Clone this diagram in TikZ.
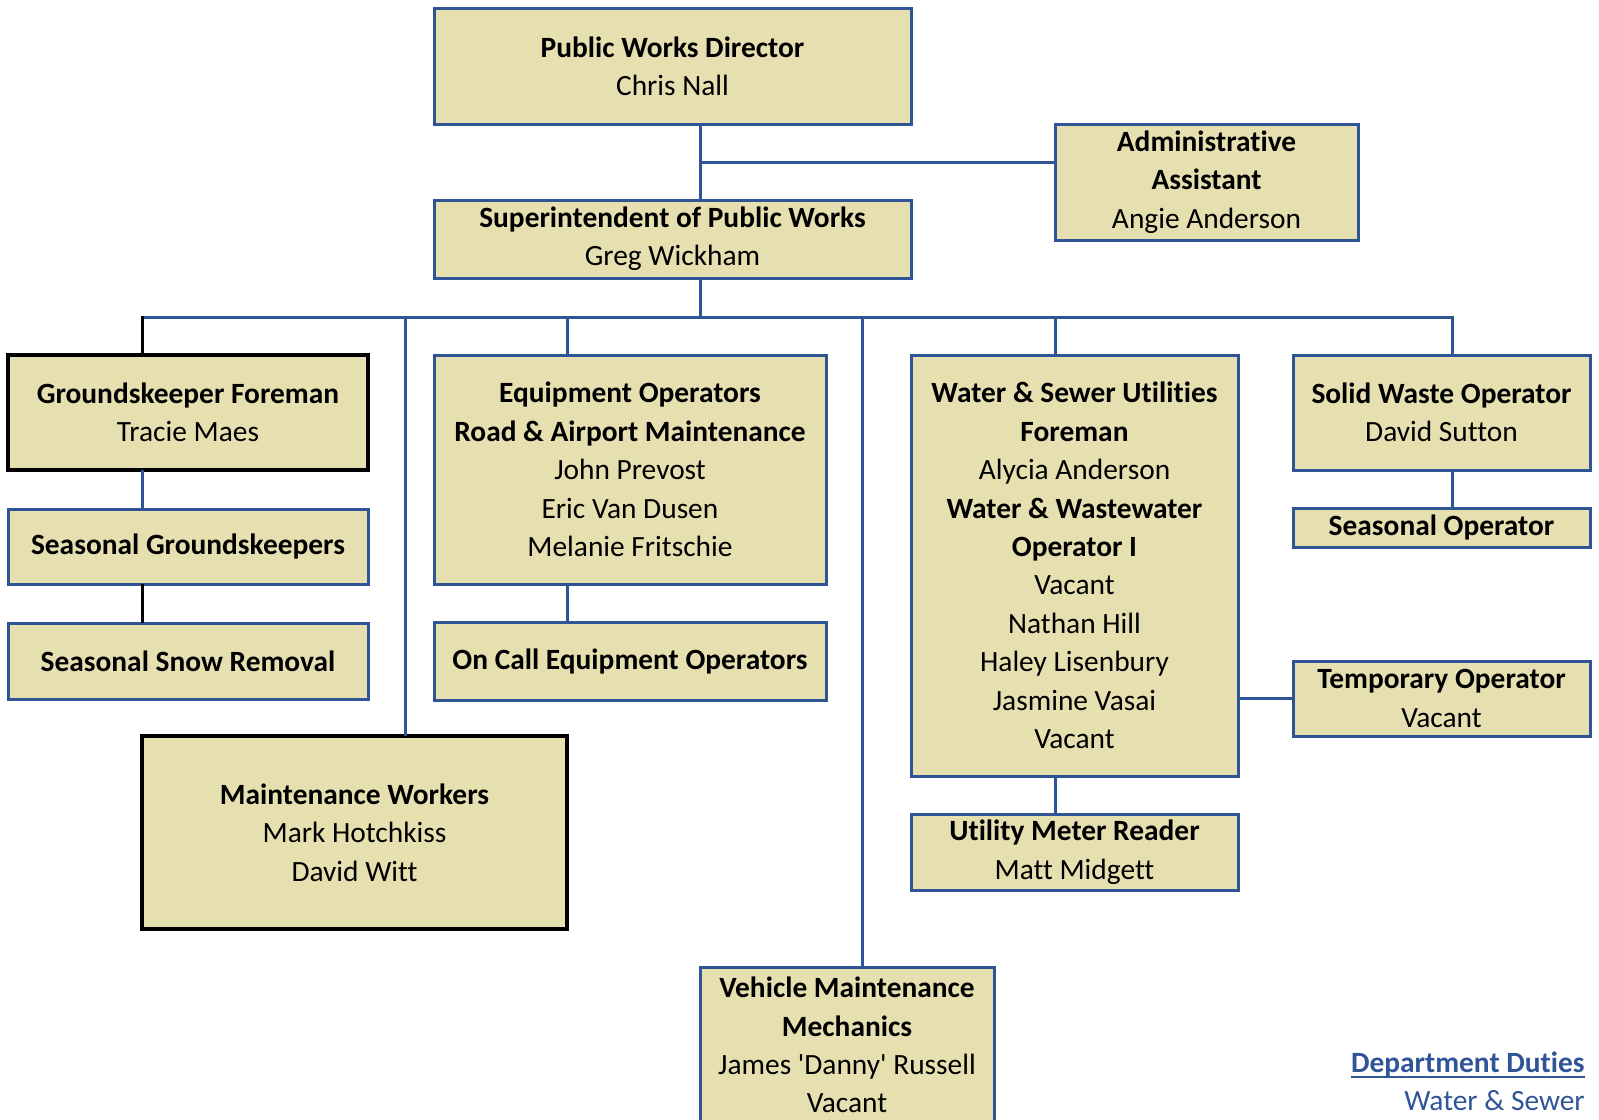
\documentclass[tikz,border=0pt]{standalone}
\usepackage{fontspec}
\setmainfont{Carlito}[Ligatures={TeXOff,CommonOff}]
\definecolor{boxfill}{HTML}{E6E0B0}
\definecolor{orgblue}{HTML}{2F5597}
% underline with a heavier rule than \underline gives
\newcommand\heavyul[1]{\setbox0\hbox{#1}\rlap{\rule[-2.8pt]{\wd0}{1pt}}\box0}
\begin{document}
\begin{tikzpicture}[x=0.5pt,y=-0.5pt,
  box/.style={draw=orgblue, line width=1.5pt, fill=boxfill, align=center,
    inner sep=0pt, font=\fontsize{14.7}{19.2}\selectfont},
  darkbox/.style={box, draw=black, line width=1.7pt},
  size/.style 2 args={minimum width=#1*0.5pt, minimum height=#2*0.5pt},
  conn/.style={draw=orgblue, line width=1.5pt, line cap=rect},
  darkconn/.style={conn, draw=black},
  note/.style={text=orgblue, inner sep=0pt, font=\fontsize{14.7}{19.2}\selectfont}]
\useasboundingbox (0,0) rectangle (1599,1119);

% top of the chart
\node[box, size={477}{116}] (dir) at (672.5,66) {\textbf{Public Works Director}\\Chris Nall};
\node[box, size={477}{78}] (sup) at (672.5,239) {\textbf{Superintendent of Public Works}\\Greg Wickham};
\node[box, size={303}{116}] (adm) at (1206.5,182) {\textbf{Administrative}\\\textbf{Assistant}\\Angie Anderson};

% grounds column
\node[darkbox, size={360}{115}] (gf) at (188,412.5) {\textbf{Groundskeeper Foreman}\\Tracie Maes};
\node[box, size={360}{75}] (sg) at (188,546.5) {\textbf{Seasonal Groundskeepers}};
\node[box, size={360}{76}] (ssr) at (188,661) {\textbf{Seasonal Snow Removal}};
\node[darkbox, size={425}{193}] (mw) at (354.5,832.5) {\textbf{Maintenance Workers}\\Mark Hotchkiss\\David Witt};

% equipment column
\node[box, size={392}{229}] (eo) at (630,469.5) {\textbf{Equipment Operators}\\\textbf{Road \& Airport Maintenance}\\John Prevost\\Eric Van Dusen\\Melanie Fritschie};
\node[box, size={392}{78}] (oc) at (630,661) {\textbf{On Call Equipment Operators}};

% vehicle shop
\node[box, size={294}{156}] (vm) at (847,1045) {\textbf{Vehicle Maintenance}\\\textbf{Mechanics}\\James 'Danny' Russell\\Vacant};

% utilities column
\node[box, size={327}{421}] (ws) at (1074.5,565.5) {\textbf{Water \& Sewer Utilities}\\\textbf{Foreman}\\Alycia Anderson\\\textbf{Water \& Wastewater}\\\textbf{Operator I}\\Vacant\\Nathan Hill\\Haley Lisenbury\\Jasmine Vasai\\Vacant};
\node[box, size={327}{76}] (umr) at (1074.5,852) {\textbf{Utility Meter Reader}\\Matt Midgett};

% solid waste column
\node[box, size={297}{115}] (sw) at (1441.5,412.5) {\textbf{Solid Waste Operator}\\David Sutton};
\node[box, size={297}{39}] (so) at (1441.5,527.5) {\textbf{Seasonal Operator}};
\node[box, size={297}{75}] (to) at (1441.5,698.5) {\textbf{Temporary Operator}\\Vacant};

% footer
\node[note, anchor=base east] (dd) at (1585,1072) {\heavyul{\textbf{Department Duties}}};
\node[note, anchor=base east] (wsd) at (1585,1110) {Water \& Sewer};

% junctions on the trunk and the bus
\coordinate (j1) at (700,162);
\coordinate (bL) at (142,317);
\coordinate (bR) at (1452,317);
\coordinate (dMW) at (405,317);
\coordinate (dEO) at (567,317);
\coordinate (dVM) at (862,317);
\coordinate (dWS) at (1055,317);

% connectors
\draw[conn] (j1 |- dir.south) -- (j1 |- sup.north);
\draw[conn] (j1) -- (j1 -| adm.west);
\draw[conn] (j1 |- sup.south) -- (j1 |- bL);
\draw[conn] (bL) -- (bR);
\draw[darkconn] (bL) -- (bL |- gf.north);
\draw[conn] (bL |- gf.south) -- (bL |- sg.north);
\draw[darkconn] (bL |- sg.south) -- (bL |- ssr.north);
\draw[conn] (dMW) -- (dMW |- mw.north);
\draw[conn] (dEO) -- (dEO |- eo.north);
\draw[conn] (dEO |- eo.south) -- (dEO |- oc.north);
\draw[conn] (dVM) -- (dVM |- vm.north);
\draw[conn] (dWS) -- (dWS |- ws.north);
\draw[conn] (dWS |- ws.south) -- (dWS |- umr.north);
\draw[conn] (to.west -| ws.east) -- (to.west);
\draw[conn] (bR) -- (bR |- sw.north);
\draw[conn] (bR |- sw.south) -- (bR |- so.north);
\end{tikzpicture}
\end{document}
